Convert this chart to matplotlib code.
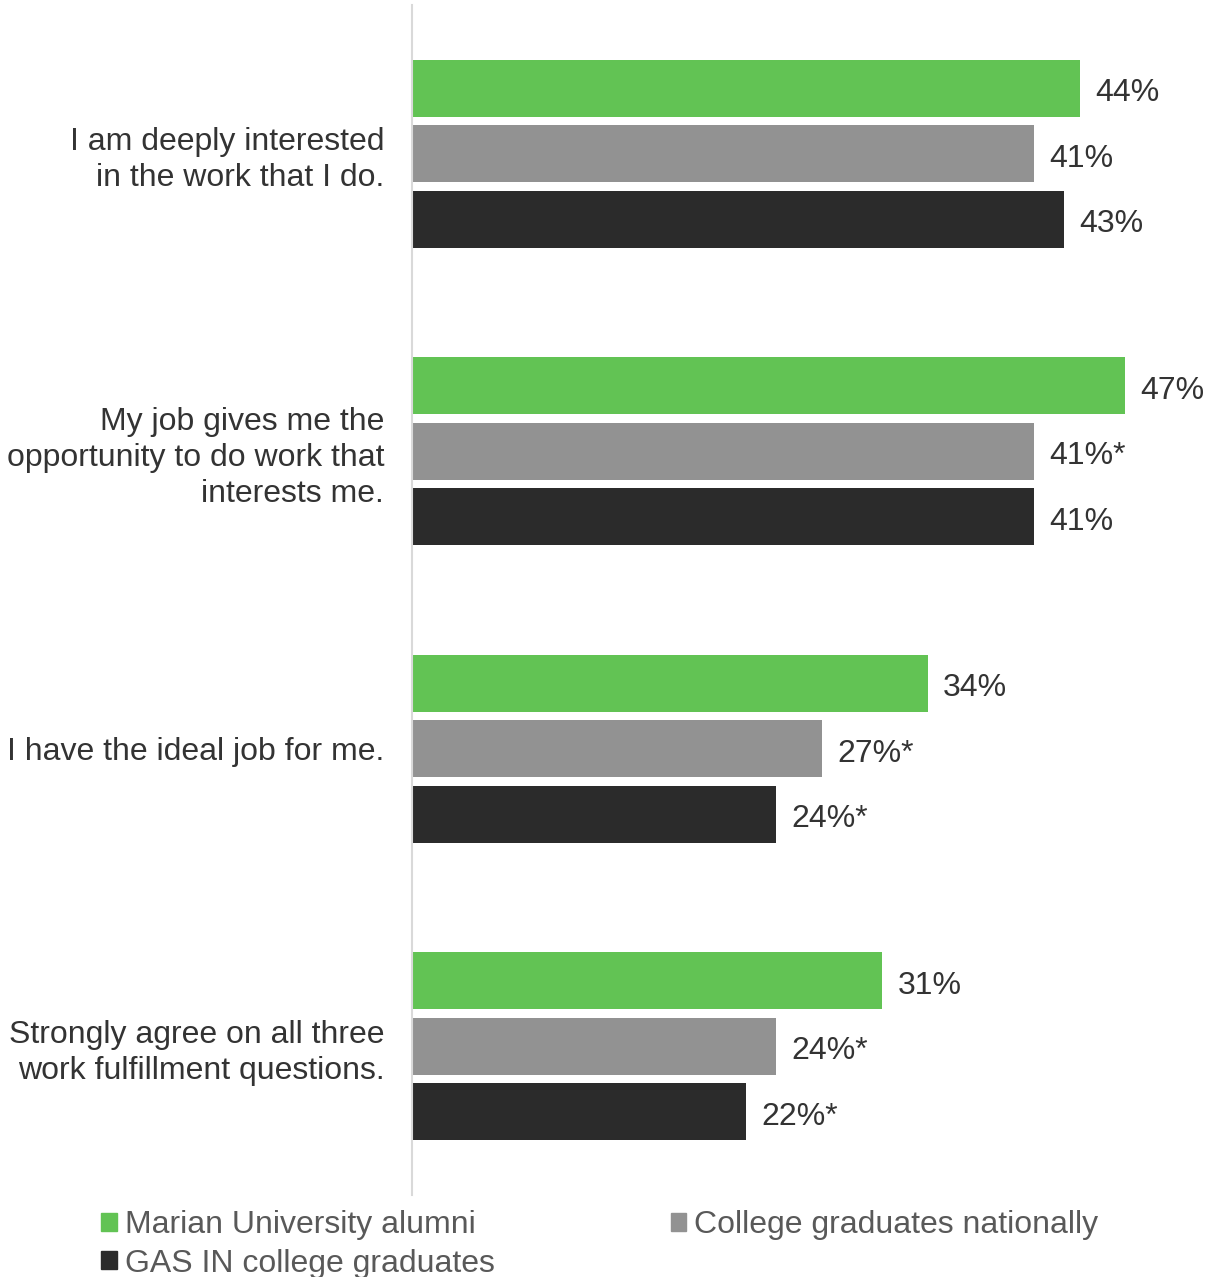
import matplotlib
matplotlib.use("Agg")
import matplotlib.pyplot as plt
import numpy as np
from matplotlib.patches import Patch

plt.rcParams["font.family"] = ["Liberation Sans", "DejaVu Sans"]

categories = [
    "I am deeply interested\nin the work that I do.",
    "My job gives me the\nopportunity to do work that\ninterests me.",
    "I have the ideal job for me.",
    "Strongly agree on all three\nwork fulfillment questions.",
]
series_names = ["Marian University alumni", "College graduates nationally",
                "GAS IN college graduates"]
marian = [44, 47, 34, 31]
national = [41, 41, 27, 24]
gas_in = [43, 41, 24, 22]
labels_marian = ["44%", "47%", "34%", "31%"]
labels_national = ["41%", "41%*", "27%*", "24%*"]
labels_gas = ["43%", "41%", "24%*", "22%*"]

colors = ["#62c354", "#929292", "#2b2b2b"]
text_color = "#333333"
fs = 23

fig = plt.figure(figsize=(12.2, 12.77), dpi=100)
W, H = 1220, 1277
ax = fig.add_axes([412 / W, 1 - 1195 / H, (1201 - 412) / W, (1195 - 5) / H])

y = np.arange(len(categories))
pitch = 0.2205
height = 0.192
series = [(marian, labels_marian), (national, labels_national), (gas_in, labels_gas)]
for k, (vals, labs) in enumerate(series):
    pos = y + (k - 1) * pitch
    bars = ax.barh(pos, vals, height=height, color=colors[k], label=series_names[k])
    for b, lab in zip(bars, labs):
        ax.annotate(lab, (b.get_width(), b.get_y() + b.get_height() / 2),
                    xytext=(11, -3.5), textcoords="offset points",
                    ha="left", va="center", fontsize=fs, color=text_color)

ax.set_xlim(0, 52)
ax.set_ylim(3.5, -0.5)
ax.set_yticks(y)
ax.set_yticklabels(categories, fontsize=fs, color=text_color, ha="right",
                   linespacing=1.27)
ax.tick_params(axis="y", length=0, pad=20)
ax.set_xticks([])
for s in ["top", "right", "bottom"]:
    ax.spines[s].set_visible(False)
ax.spines["left"].set_color("#d9d9d9")
ax.spines["left"].set_linewidth(1.5)

handles = [Patch(color=colors[0]), Patch(color=colors[2]), Patch(color=colors[1])]
names = [series_names[0], series_names[2], series_names[1]]
leg = fig.legend(handles, names, loc="upper left", bbox_to_anchor=(101 / W, 1 - 1210 / H),
                 ncol=2, frameon=False, fontsize=fs, handlelength=0.5, handleheight=0.5,
                 handletextpad=0.25, columnspacing=5.5, labelspacing=0.27,
                 borderpad=0, borderaxespad=0)
for t in leg.get_texts():
    t.set_color("#595959")

fig.savefig("out.png", dpi=100)
